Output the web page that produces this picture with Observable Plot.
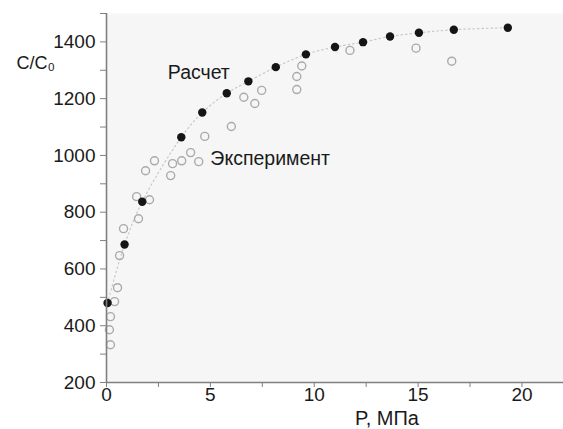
<!DOCTYPE html>
<html><head><meta charset="utf-8">
<script src="https://cdn.jsdelivr.net/npm/d3@7"></script>
<script src="https://cdn.jsdelivr.net/npm/@observablehq/plot@0.6"></script>
<style>body{margin:0;background:#fff;}</style>
</head><body><div id="chart"></div>
<script>
// Расчет (calculation)
const calcP = [0.05, 0.87, 1.72, 3.60, 4.61, 5.79, 6.83, 8.15, 9.60, 11.0, 12.35, 13.65, 15.04, 16.72, 19.32];
const calcC = [480, 686, 837, 1064, 1151, 1219, 1261, 1311, 1356, 1382, 1399, 1419, 1432, 1443, 1450];
// Эксперимент (experiment)
const expP = [0.19, 0.14, 0.19, 0.39, 0.53, 0.63, 0.82, 1.54, 1.45, 2.07, 1.88, 2.31, 3.09, 3.18, 3.62, 4.05, 4.44, 4.73, 6.01, 6.61, 7.14, 7.47, 9.16, 9.16, 9.40, 11.72, 14.90, 16.62];
const expC = [333, 386, 432, 485, 534, 647, 742, 777, 855, 844, 946, 981, 929, 971, 981, 1010, 978, 1067, 1102, 1205, 1183, 1229, 1232, 1278, 1315, 1370, 1378, 1332];

const xTicks = [0, 5, 10, 15, 20];
const xMinor = [2.5, 7.5, 12.5, 17.5];
const yTicks = [200, 400, 600, 800, 1000, 1200, 1400];
const yMinor = [300, 500, 700, 900, 1100, 1300, 1500];

const labels = [
  {x: 2.95, y: 1290, text: "Расчет"},
  {x: 5.0, y: 990, text: "Эксперимент"}
];
const xLabel = "P, МПа";
const yLabel = "C/C₀";

const calc = calcP.map((p, i) => ({p, c: calcC[i]}));
const exp = expP.map((p, i) => ({p, c: expC[i]}));

const axisColor = "#808080";
const fmt = d3.format("d");

const chart = Plot.plot({
  width: 563,
  height: 429,
  marginLeft: 106,
  marginRight: 0,
  marginTop: 13,
  marginBottom: 47,
  x: {domain: [0, 22]},
  y: {domain: [200, 1500]},
  style: {fontFamily: "'Liberation Sans', Arial, sans-serif", background: "white"},
  marks: [
    Plot.frame({fill: "#f6f6f6", stroke: null}),
    Plot.line(calc, {x: "p", y: "c", curve: "catmull-rom", stroke: "#c8c8c8", strokeWidth: 1.2, strokeDasharray: "1.5,3"}),
    Plot.dot(exp, {x: "p", y: "c", r: 4, stroke: "#aaaaaa", strokeWidth: 1.4, fill: "none"}),
    Plot.dot(calc, {x: "p", y: "c", r: 4.2, fill: "#151515", stroke: "none"}),
    Plot.text(labels, {x: "x", y: "y", text: "text", textAnchor: "start", fontSize: 19.5, fill: "#1a1a1a"}),
    Plot.axisX({ticks: xTicks, tickSize: 5, tickPadding: 0, fontSize: 19, tickFormat: fmt, label: null, stroke: axisColor, fill: "#1a1a1a"}),
    Plot.axisX({ticks: xMinor, tickSize: 5, text: null, label: null, stroke: axisColor}),
    Plot.axisY({ticks: yTicks, tickSize: 6, tickPadding: 5, fontSize: 19, tickFormat: fmt, label: null, stroke: axisColor, fill: "#1a1a1a"}),
    Plot.axisY({ticks: yMinor, tickSize: 6, text: null, label: null, stroke: axisColor}),
    Plot.ruleX([0], {stroke: axisColor, strokeWidth: 1.6}),
    Plot.ruleY([200], {stroke: axisColor, strokeWidth: 1.6}),
    Plot.text([xLabel], {x: 13.5, frameAnchor: "bottom", dy: 36, lineAnchor: "middle", text: d => d, fontSize: 20, fill: "#1a1a1a"}),
    Plot.text([yLabel], {x: 0, y: 1325, dx: -90, textAnchor: "start", lineAnchor: "middle", text: d => d, fontSize: 18, fill: "#1a1a1a"})
  ]
});
document.getElementById("chart").appendChild(chart);
</script>
</body></html>
